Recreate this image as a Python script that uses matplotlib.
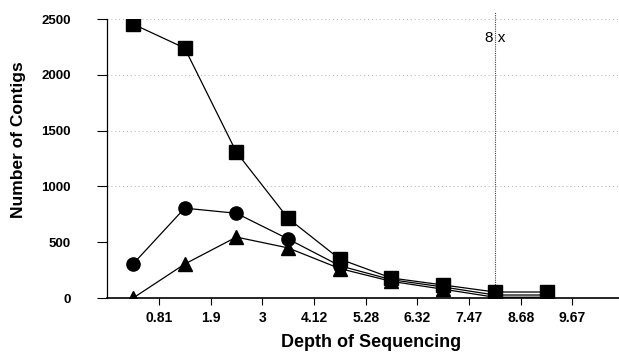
import numpy as np
import matplotlib.pyplot as plt

plt.rcParams['font.family'] = ['Liberation Sans', 'DejaVu Sans']

# Depth-of-sequencing tick labels (between the plotted points)
depth_labels = ['0.81', '1.9', '3', '4.12', '5.28', '6.32', '7.47', '8.68', '9.67']

# Number of contigs, one value per sequencing step
squares = [2455, 2240, 1308, 715, 350, 180, 118, 55, 55]
circles = [305, 806, 760, 530, 290, 165, 100, 28, 28]
triangles = [0, 305, 547, 450, 265, 150, 80, 8, 8]

steps = np.arange(len(squares))
marker_8x = 7

fig = plt.figure(figsize=(6.19, 3.52), dpi=100)
ax = fig.add_axes([0.173, 0.153, 0.827, 0.793])

# sparse dotted grid
for y in [1000, 1500, 2000, 2500]:
    ax.axhline(y, color='#b0b0b0', linestyle=(0, (1, 3)), linewidth=0.7, zorder=0)

ax.plot(steps, squares, color='black', lw=0.9, marker='s', ms=10, zorder=3)
ax.plot(steps, circles, color='black', lw=0.9, marker='o', ms=9.5, zorder=3)
ax.plot(steps, triangles, color='black', lw=0.9, marker='^', ms=9.5, zorder=3)

# 8x marker
ax.axvline(marker_8x, ymin=0, ymax=1.025, color='#444444', linestyle=(0, (1, 1)),
           linewidth=0.8, clip_on=False, zorder=1)
ax.text(marker_8x, 2330, '8 x', ha='center', va='center', fontsize=11)

ax.set_xlim(-0.5, 9.4)
ax.set_ylim(0, 2500)
ax.set_xticks(steps + 0.5)
ax.set_xticklabels(depth_labels)
ax.set_yticks([0, 500, 1000, 1500, 2000, 2500])

for s in ['top', 'right']:
    ax.spines[s].set_visible(False)
ax.spines['left'].set_linewidth(0.9)
ax.spines['bottom'].set_linewidth(1.2)

ax.tick_params(axis='y', direction='out', length=7, width=0.8, pad=19, labelsize=9.5)
ax.tick_params(axis='x', direction='out', length=5, width=0.8, pad=4, labelsize=10)
for lbl in ax.get_xticklabels() + ax.get_yticklabels():
    lbl.set_fontweight('bold')

fig.text(371 / 619, 1 - 347 / 352, 'Depth of Sequencing', ha='center', va='baseline',
         fontsize=13, fontweight='bold')
fig.text(19 / 619, 1 - 140 / 352, 'Number of Contigs', ha='center', va='center',
         rotation=90, fontsize=12.5, fontweight='bold')

fig.savefig('out.png', dpi=100)
